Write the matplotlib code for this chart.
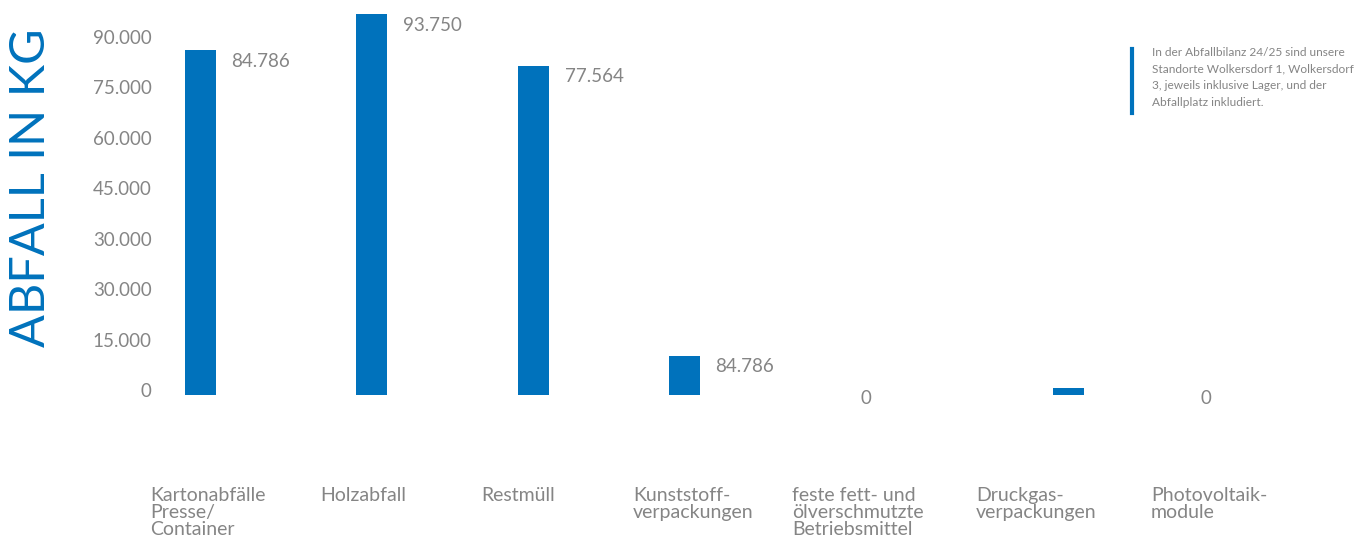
import numpy as np
import matplotlib
matplotlib.use("Agg")
import matplotlib.pyplot as plt

plt.rcParams['font.family'] = ['Lato', 'DejaVu Sans']

# data
categories = ["Kartonabfälle\nPresse/\nContainer", "Holzabfall", "Restmüll",
              "Kunststoff-\nverpackungen", "feste fett- und\nölverschmutzte\nBetriebsmittel",
              "Druckgas-\nverpackungen", "Photovoltaik-\nmodule"]
values = [84786, 93750, 81000, 9600, 0, 1700, 0]
value_labels = ["84.786", "93.750", "77.564", "84.786", "0", "", "0"]
ytick_labels = ["0", "15.000", "30.000", "30.000", "45.000", "60.000", "75.000", "90.000"]

# layout (pixel columns of the original design)
bar_x = [200, 371, 533, 684, 866, 1068, 1206]
label_x = [150, 320, 481, 633, 792, 976, 1151]
ytick_pos = np.linspace(1200, 88100, len(ytick_labels))

blue = "#0072bc"
grey = "#858585"

fig = plt.figure(figsize=(13.65, 5.36), dpi=100)
ax = fig.add_axes([160 / 1365, 141 / 536, 1 - 160 / 1365, 395 / 536])
ax.set_xlim(160, 1365)
ax.set_ylim(0, 97200)

ax.bar(bar_x, values, width=31, color=blue)

for x, v, lab in zip(bar_x, values, value_labels):
    if lab == "":
        continue
    if v > 0:
        ax.annotate(lab, (x + 15.5, v), xytext=(16, -11), textcoords="offset pixels",
                    ha="left", va="center", fontsize=13.5, color=grey)
    else:
        ax.annotate(lab, (x, 0), xytext=(0, -3), textcoords="offset pixels",
                    ha="center", va="center", fontsize=13.5, color=grey)

for x, c in zip(label_x, categories):
    ax.text(x, -0.232, c, transform=ax.get_xaxis_transform(), ha="left", va="top",
            fontsize=14, color=grey, linespacing=1.0)

ax.set_yticks(ytick_pos)
ax.set_yticklabels(ytick_labels, fontsize=13.5, color=grey)
ax.tick_params(axis="y", length=0, pad=6)
ax.set_xticks([])
for s in ax.spines.values():
    s.set_visible(False)

fig.text(31 / 1365, 1 - 188 / 536, "ABFALL IN KG", rotation=90, ha="center", va="center",
         fontsize=35, color=blue)

# note at the right
fig.add_artist(plt.Line2D([1132 / 1365, 1132 / 1365], [1 - 49 / 536, 1 - 113 / 536],
                          color=blue, linewidth=3))
fig.text(1152 / 1365, 1 - 47 / 536,
         "In der Abfallbilanz 24/25 sind unsere\nStandorte Wolkersdorf 1, Wolkersdorf\n"
         "3, jeweils inklusive Lager, und der\nAbfallplatz inkludiert.",
         ha="left", va="top", fontsize=8.6, color=grey, linespacing=1.62)

fig.savefig("out.png", dpi=100)
